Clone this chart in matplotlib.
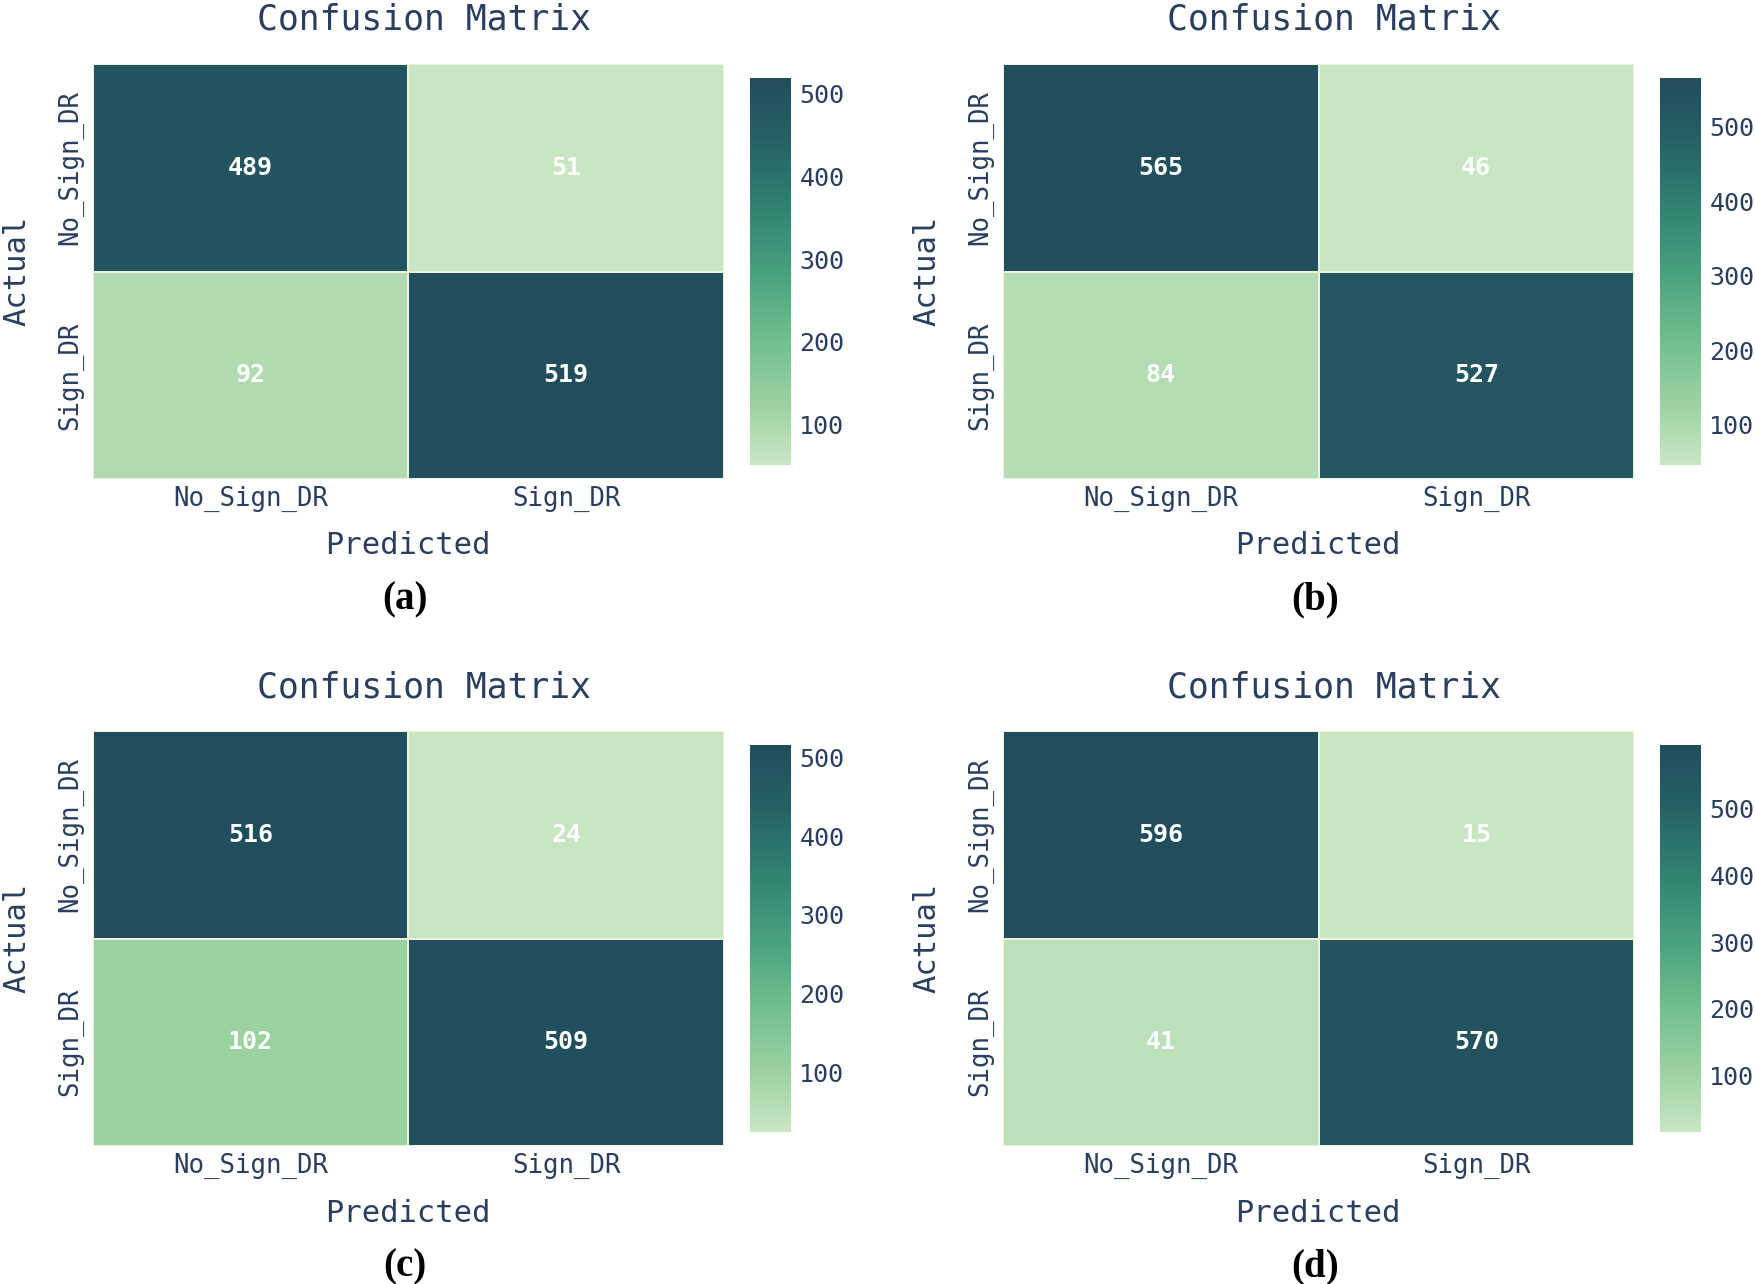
import matplotlib.pyplot as plt
import numpy as np
from matplotlib.colors import LinearSegmentedColormap

# Data
classes = ["No_Sign_DR", "Sign_DR"]
cm_a = [[489, 51], [92, 519]]
cm_b = [[565, 46], [84, 527]]
cm_c = [[516, 24], [102, 509]]
cm_d = [[596, 15], [41, 570]]
panel_labels = ["(a)", "(b)", "(c)", "(d)"]
cbar_ticks = [100, 200, 300, 400, 500]

W, H = 1755, 1284
txt_col = "#2a3f5f"
mono = "DejaVu Sans Mono"

cmap = LinearSegmentedColormap.from_list("emrld_like", [
    (0.00, "#c9e6c3"), (0.15, "#9dd3a3"), (0.35, "#6abb8a"),
    (0.50, "#47a07e"), (0.68, "#2f8070"), (0.85, "#255f64"), (1.00, "#214e5d")])

fig = plt.figure(figsize=(W / 100, H / 100), dpi=100)


def px(x, y):
    return x / W, 1 - y / H


mats = [cm_a, cm_b, cm_c, cm_d]
for i, mat in enumerate(mats):
    mat = np.array(mat)
    dx = 910 * (i % 2)
    dy = 667 * (i // 2)
    left, top, right, bottom = 93 + dx, 64 + dy, 724 + dx, 479 + dy
    ax = fig.add_axes([left / W, 1 - bottom / H, (right - left) / W, (bottom - top) / H])
    vmin, vmax = mat.min(), mat.max()
    mesh = ax.pcolormesh(mat, cmap=cmap, vmin=vmin, vmax=vmax,
                         edgecolor="#eef3dc", linewidth=1.2)
    ax.set_xlim(0, 2)
    ax.set_ylim(2, 0)
    for r in range(2):
        for c in range(2):
            ax.text(c + 0.5, r + 0.5, str(mat[r, c]), ha="center", va="center",
                    color="white", fontsize=18, fontweight="bold", family=mono)
    ax.set_xticks([0.5, 1.5])
    ax.set_xticklabels(classes, fontsize=18.5, family=mono, color=txt_col)
    ax.set_yticks([0.5, 1.5])
    ax.set_yticklabels(classes, fontsize=18.5, family=mono, color=txt_col,
                       rotation=90, va="center")
    ax.tick_params(axis="x", length=0, pad=5)
    ax.tick_params(axis="y", length=0, pad=7)
    for s in ax.spines.values():
        s.set_visible(False)

    # colorbar
    cax = fig.add_axes([(left + 657) / W, 1 - (bottom - 14) / H, 41 / W, (bottom - top - 28) / H])
    cb = fig.colorbar(mesh, cax=cax)
    cb.set_ticks(cbar_ticks)
    cb.ax.tick_params(length=0, labelsize=18, labelcolor=txt_col, pad=6)
    for t in cb.ax.get_yticklabels():
        t.set_family(mono)
    cb.outline.set_visible(False)

    # titles and axis labels
    fig.text(*px(424 + dx, 20 + dy), "Confusion Matrix", ha="center", va="center",
             fontsize=25, family=mono, color=txt_col)
    fig.text(*px(408 + dx, 546 + dy), "Predicted", ha="center", va="center",
             fontsize=22, family=mono, color=txt_col)
    fig.text(*px(17 + dx, 271 + dy), "Actual", ha="center", va="center",
             rotation=90, fontsize=22, family=mono, color=txt_col)
    fig.text(*px(405 + dx, 600 + dy), panel_labels[i], ha="center", va="center",
             fontsize=28, fontweight="bold", family="Liberation Serif", color="black")

fig.savefig("out.png", dpi=100, facecolor="white")
